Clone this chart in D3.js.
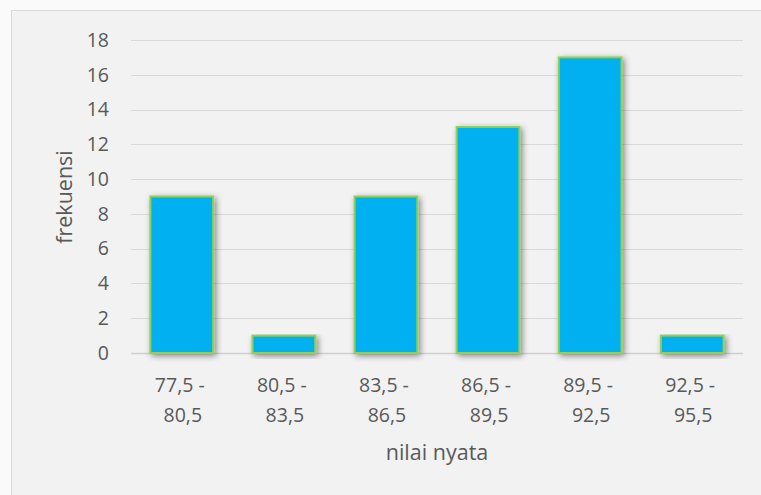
<!DOCTYPE html>
<html>
<head>
<meta charset="utf-8">
<script src="https://d3js.org/d3.v7.min.js"></script>
<style>
  body { margin: 0; background: #fafafa; font-family: 'Open Sans', sans-serif; }
</style>
</head>
<body>
<script>
var categories = [["77,5 -", "80,5"], ["80,5 -", "83,5"], ["83,5 -", "86,5"],
                  ["86,5 -", "89,5"], ["89,5 -", "92,5"], ["92,5 -", "95,5"]];
var frekuensi = [9, 1, 9, 13, 17, 1];
var yTicks = [0, 2, 4, 6, 8, 10, 12, 14, 16, 18];

var W = 761, H = 495,
    mLeft = 131, mRight = 743, mTop = 40, mBottom = 353;

var svg = d3.select("body").append("svg")
  .attr("width", W)
  .attr("height", H)
  .style("display", "block");

var defs = svg.append("defs");
var f = defs.append("filter").attr("id", "shadow")
  .attr("x", "-20%").attr("y", "-20%").attr("width", "150%").attr("height", "150%");
f.append("feGaussianBlur").attr("in", "SourceAlpha").attr("stdDeviation", 3);
f.append("feOffset").attr("dx", 2).attr("dy", 2).attr("result", "b");
f.append("feComponentTransfer").append("feFuncA").attr("type", "linear").attr("slope", 0.45);
var m = f.append("feMerge");
m.append("feMergeNode");
m.append("feMergeNode").attr("in", "SourceGraphic");

// chart area with border
svg.append("rect")
  .attr("x", 11.5).attr("y", 10.5)
  .attr("width", W).attr("height", H)
  .attr("fill", "#f2f2f2")
  .attr("stroke", "#d9d9d9");

var x = d3.scaleBand()
  .domain(d3.range(categories.length))
  .range([mLeft, mRight])
  .paddingInner(0.385).paddingOuter(0.19);

var y = d3.scaleLinear().domain([0, 18]).range([mBottom, mTop]);

// gridlines
svg.append("g").selectAll("line")
  .data(yTicks)
  .enter().append("line")
    .attr("x1", mLeft).attr("x2", mRight)
    .attr("y1", function(d){ return Math.round(y(d)) + 0.5; })
    .attr("y2", function(d){ return Math.round(y(d)) + 0.5; })
    .attr("stroke", function(d){ return d === 0 ? "#d0d0d0" : "#d9d9d9"; })
    .attr("stroke-width", function(d){ return d === 0 ? 1.5 : 1; });

// y axis labels
var yAxis = d3.axisLeft(y).tickValues(yTicks).tickSize(0).tickPadding(0);
var ga = svg.append("g").attr("transform", "translate(109,0)").call(yAxis);
ga.select(".domain").remove();
ga.selectAll("text")
  .attr("fill", "#595959")
  .style("font-family", "'Open Sans', sans-serif")
  .style("font-size", "19.5px");

// bars
svg.append("g").selectAll("rect")
  .data(frekuensi)
  .enter().append("rect")
    .attr("x", function(d,i){ return x(i); })
    .attr("y", function(d){ return y(d); })
    .attr("width", x.bandwidth())
    .attr("height", function(d){ return y(0) - y(d); })
    .attr("fill", "#00b0f0")
    .attr("stroke", "#92d050")
    .attr("stroke-width", 2)
    .attr("filter", "url(#shadow)");

// x labels
var xl = svg.append("g").selectAll("text")
  .data(categories)
  .enter().append("text")
    .attr("text-anchor", "middle")
    .attr("fill", "#595959")
    .style("font-size", "19.5px");
xl.append("tspan")
  .attr("x", function(d,i){ return x(i) + x.bandwidth()/2 - 2; })
  .attr("y", 392)
  .text(function(d){ return d[0]; });
xl.append("tspan")
  .attr("x", function(d,i){ return x(i) + x.bandwidth()/2 + 1; })
  .attr("y", 422)
  .text(function(d){ return d[1]; });

// axis titles
svg.append("text")
  .attr("x", (mLeft + mRight)/2)
  .attr("y", 460)
  .attr("text-anchor", "middle")
  .attr("fill", "#595959")
  .style("font-size", "21.5px")
  .text("nilai nyata");

svg.append("text")
  .attr("transform", "translate(72,197) rotate(-90)")
  .attr("text-anchor", "middle")
  .attr("fill", "#595959")
  .style("font-size", "21.5px")
  .text("frekuensi");
</script>
</body>
</html>
